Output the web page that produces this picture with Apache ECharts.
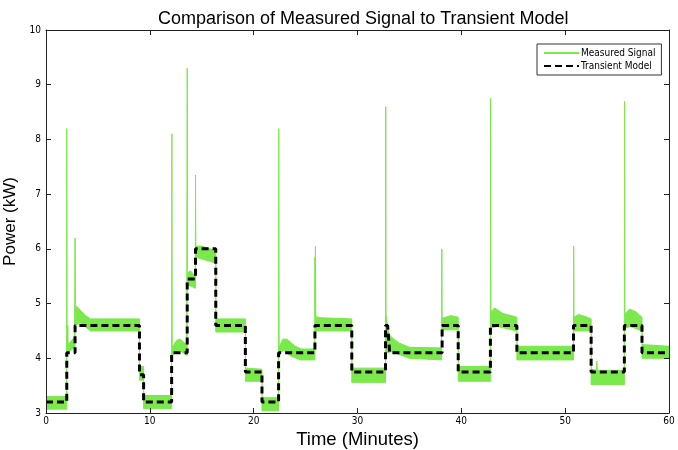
<!DOCTYPE html>
<html>
<head>
<meta charset="utf-8">
<script src="https://cdn.jsdelivr.net/npm/echarts@6/dist/echarts.min.js"></script>
<style>
html,body{margin:0;padding:0;background:#fff;}
#chart{width:678px;height:450px;}
</style>
</head>
<body>
<div id="chart"></div>
<script>
// Transient model (step function vertices)
var modelTime  = [0,2.0,2.0,2.8,2.8,9.0,9.0,9.4,9.4,12.1,12.1,13.6,13.6,14.4,14.4,16.35,16.35,19.2,19.2,20.8,20.8,22.4,22.4,25.9,25.9,29.45,29.45,32.7,32.7,32.9,33.1,38.15,38.15,39.7,39.7,42.8,42.8,45.35,45.35,50.8,50.8,52.5,52.5,55.7,55.7,57.4,57.4,60];
var modelPower = [3.2,3.2,4.1,4.1,4.6,4.6,3.7,3.7,3.2,3.2,4.1,4.1,5.45,5.45,6.0,6.0,4.6,4.6,3.75,3.75,3.2,3.2,4.1,4.1,4.6,4.6,3.75,3.75,4.6,4.6,4.1,4.1,4.6,4.6,3.75,3.75,4.6,4.6,4.1,4.1,4.6,4.6,3.75,3.75,4.6,4.6,4.1,4.1];

// Measured signal: upper envelope of the noisy band (including spikes)
var upperTime  = [0,1.99,2.0,2.03,2.1,2.13,2.5,2.75,2.8,2.83,2.95,3.3,3.8,4.3,9.0,9.0,9.4,9.4,12.1,12.12,12.15,12.6,12.9,13.55,13.6,13.63,13.9,14.38,14.4,14.43,15.0,15.8,16.35,16.35,19.2,19.2,20.8,20.8,22.4,22.42,22.45,22.8,23.2,24.0,24.6,25.88,25.9,25.92,25.95,25.98,26.5,29.45,29.45,32.7,32.72,32.75,32.85,33.0,33.3,34.0,35.0,38.1,38.12,38.15,39.0,39.7,39.7,42.8,42.82,42.85,43.2,44.0,45.35,45.35,50.8,50.82,50.85,51.3,52.0,52.5,52.5,53.0,53.05,53.1,55.7,55.72,55.75,56.2,56.8,57.4,57.4,60];
var upperPower = [3.3,3.3,8.2,4.2,4.6,4.25,4.33,4.4,6.2,4.85,4.95,4.88,4.78,4.72,4.72,3.85,3.85,3.32,3.32,8.1,4.2,4.33,4.35,4.25,9.3,5.55,5.6,5.5,7.35,6.05,6.05,6.0,5.97,4.72,4.72,3.82,3.8,3.28,3.28,8.2,4.2,4.35,4.35,4.22,4.17,4.17,5.85,4.75,6.05,4.76,4.74,4.72,3.82,3.82,8.6,4.8,4.8,4.45,4.38,4.28,4.2,4.19,6.0,4.73,4.78,4.75,3.85,3.85,8.75,4.85,4.92,4.82,4.75,4.22,4.22,6.05,4.75,4.8,4.76,4.72,3.8,3.78,3.95,3.78,3.78,8.7,4.8,4.9,4.85,4.75,4.25,4.22];

// Measured signal: lower envelope of the noisy band
var lowerTime  = [0,2.0,2.0,2.8,2.8,3.3,4.3,9.0,9.0,9.4,9.4,12.1,12.1,12.8,13.6,13.6,14.4,14.4,16.35,16.35,19.2,19.2,20.8,20.8,22.4,22.4,22.9,23.5,24.5,25.9,25.9,29.45,29.45,32.7,32.7,33.3,35.0,38.1,38.1,39.7,39.7,42.8,42.8,43.5,45.35,45.35,50.8,50.8,52.5,52.5,55.7,55.7,56.3,57.4,57.4,60];
var lowerPower = [3.07,3.07,4.1,4.2,4.6,4.65,4.5,4.5,3.6,3.6,3.08,3.08,4.05,4.15,4.05,5.35,5.28,5.85,5.74,4.48,4.48,3.58,3.58,3.04,3.04,4.08,4.15,4.05,3.97,3.97,4.5,4.5,3.56,3.56,4.1,4.12,4.0,3.97,4.52,4.52,3.58,3.58,4.55,4.58,4.5,3.97,3.97,4.5,4.5,3.52,3.52,4.55,4.58,4.5,4.0,4.0];

var xTicks = [0,10,20,30,40,50,60];
var yTicks = [3,4,5,6,7,8,9,10];

function zip(a,b){ return a.map(function(v,i){ return [v,b[i]]; }); }

var GREEN = '#7be84c';
var NARROW = '"Liberation Sans Narrow","Arial Narrow","DejaVu Sans Condensed",sans-serif';
var SANS = '"Liberation Sans",Arial,Helvetica,sans-serif';

var chart = echarts.init(document.getElementById('chart'), null, {renderer:'canvas'});
var axisBase = {
  type:'value', z:10,
  axisLine:{show:true, onZero:false, lineStyle:{color:'#222', width:1}},
  axisTick:{show:true, inside:true, length:5, lineStyle:{color:'#222'}},
  splitLine:{show:false}
};
chart.setOption({
  animation:false,
  backgroundColor:'#fff',
  title:{
    text:'Comparison of Measured Signal to Transient Model',
    left:153, top:5,
    textStyle:{fontFamily:SANS, fontSize:18, fontWeight:'normal', color:'#000'}
  },
  legend:{
    data:['Measured Signal','Transient Model'],
    orient:'vertical', left:537, top:44,
    itemWidth:35, itemHeight:10, itemGap:3,
    padding:[4,6,4,6],
    borderColor:'#333', borderWidth:1, backgroundColor:'#fff',
    itemStyle:{opacity:0},
    textStyle:{fontFamily:NARROW, fontSize:10, color:'#000', padding:[0,0,0,-3]}
  },
  grid:{left:46, right:9, top:30, bottom:37, outerBoundsMode:'none', containLabel:false},
  xAxis:[
    Object.assign({}, axisBase, {
      position:'bottom', min:xTicks[0], max:xTicks[xTicks.length-1], interval:10,
      name:'Time (Minutes)', nameLocation:'middle', nameGap:15,
      nameTextStyle:{fontFamily:SANS, fontSize:18.5, color:'#000'},
      axisLabel:{show:true, margin:3, fontFamily:NARROW, fontSize:10, color:'#000'}
    }),
    Object.assign({}, axisBase, {
      position:'top', min:xTicks[0], max:xTicks[xTicks.length-1], interval:10,
      axisLabel:{show:false}
    })
  ],
  yAxis:[
    Object.assign({}, axisBase, {
      position:'left', min:yTicks[0], max:yTicks[yTicks.length-1], interval:1,
      name:'Power (kW)', nameLocation:'middle', nameGap:17,
      nameTextStyle:{fontFamily:SANS, fontSize:17, color:'#000'},
      axisLabel:{show:true, margin:5, fontFamily:NARROW, fontSize:10, color:'#000'}
    }),
    Object.assign({}, axisBase, {
      position:'right', min:yTicks[0], max:yTicks[yTicks.length-1], interval:1,
      axisLabel:{show:false}
    })
  ],
  series:[
    {
      name:'Measured Signal', type:'line', data:zip(upperTime, upperPower),
      symbol:'none', z:2, color:GREEN,
      lineStyle:{color:GREEN, width:1},
      areaStyle:{color:GREEN, opacity:1, origin:'start'}
    },
    {
      name:'Measured Signal (lower)', type:'line', data:zip(lowerTime, lowerPower),
      symbol:'none', z:3, color:GREEN,
      lineStyle:{color:GREEN, width:1},
      areaStyle:{color:'#ffffff', opacity:1, origin:'start'}
    },
    {
      name:'Transient Model', type:'line', data:zip(modelTime, modelPower),
      symbol:'none', z:4, color:'#000',
      lineStyle:{color:'#000', width:3, type:[7,4]}
    }
  ]
});
</script>
</body>
</html>
